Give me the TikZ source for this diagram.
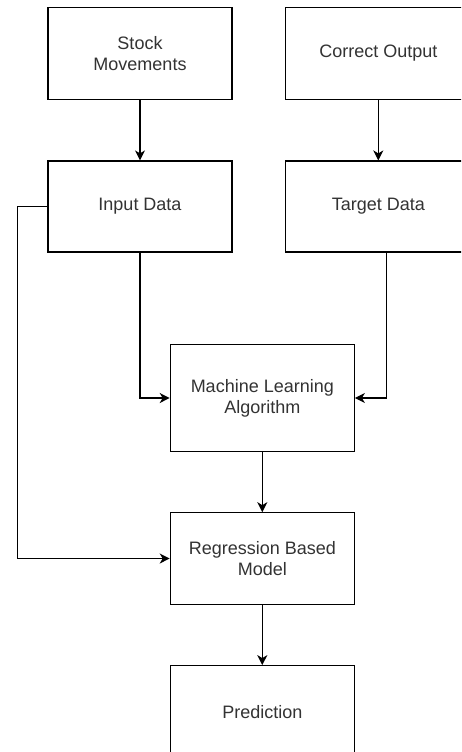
\documentclass[tikz,border=0pt]{standalone}
\usepackage{fontspec}
\setmainfont{Liberation Sans}
\usetikzlibrary{arrows.meta}
\definecolor{txt}{HTML}{333333}
\begin{document}
\begin{tikzpicture}[x=1pt,y=-1pt,
  box/.style={draw=black, line width=1.2pt, fill=white, minimum width=184pt, inner sep=0pt,
    align=center, text=txt, font=\fontsize{18}{21}\selectfont},
  arr/.style={draw=black, line width=1.2pt, -{Stealth[length=10pt,width=10pt,inset=3pt]}}]
\clip (0,0) rectangle (461,752);
\fill[white] (0,0) rectangle (461,752);
\node[box, minimum height=92pt] (stock) at (140,53.3) {Stock\\Movements};
\node[box, minimum width=186pt, minimum height=92pt] (correct) at (378.3,53.3) {Correct Output};
\node[box, minimum height=91pt] (input) at (140,206.5) {Input Data};
\node[box, minimum width=186pt, minimum height=91pt] (target) at (378.3,206.5) {Target Data};
\node[box, minimum height=107pt] (ml) at (262.3,398) {Machine Learning\\Algorithm};
\node[box, minimum height=91.5pt] (reg) at (262.3,558.5) {Regression Based\\Model};
\node[box, minimum height=92pt] (pred) at (262.3,711.7) {Prediction};
\coordinate (lk) at (17.3,0);
\draw[arr] (stock.south) -- (input.north);
\draw[arr] (correct.south) -- (target.north);
\draw[arr] (input.south) |- (ml.west);
\draw[arr] ([xshift=8pt]target.south) |- (ml.east);
\draw[arr] (ml.south) -- (reg.north);
\draw[arr] (input.west) -| (lk |- reg.west) -- (reg.west);
\draw[arr] (reg.south) -- (pred.north);
\end{tikzpicture}
\end{document}
